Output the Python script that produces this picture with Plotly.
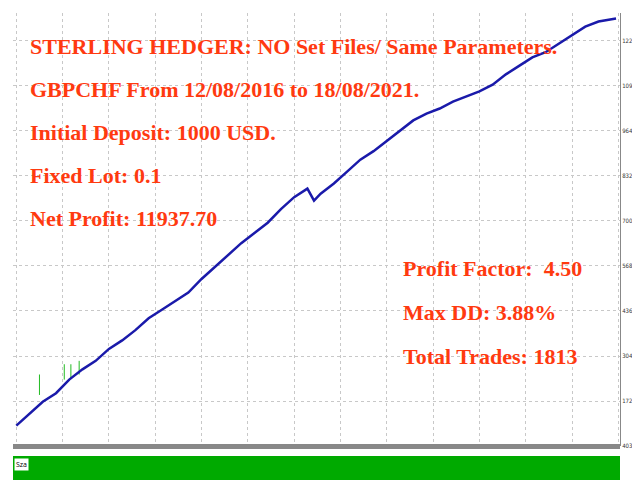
import plotly.graph_objects as go

# balance curve (trade index vs balance)
trade_idx = [0, 40, 80, 120, 160, 200, 240, 280, 320, 360, 400, 440, 480, 520, 560, 600,
             640, 680, 720, 760, 800, 840, 880, 900, 920, 960, 1000, 1040, 1080, 1120, 1160,
             1200, 1240, 1280, 1320, 1360, 1400, 1440, 1480, 1520, 1560, 1600, 1640, 1680,
             1720, 1760, 1813]
balance = [1000, 1350, 1700, 1950, 2350, 2650, 2900, 3250, 3500, 3800, 4150, 4400, 4650,
           4900, 5300, 5650, 6000, 6350, 6650, 6950, 7350, 7700, 7950, 7600, 7800, 8100,
           8450, 8800, 9050, 9350, 9650, 9950, 10150, 10300, 10500, 10650, 10800, 11000,
           11300, 11550, 11800, 11950, 12200, 12450, 12700, 12850, 12940]

# green equity spikes near the start
spike_idx = [70, 145, 165, 190]
spike_lo = [1900, 2350, 2400, 2500]
spike_hi = [2500, 2800, 2800, 2900]

y_ticks = [403, 1722, 3042, 4362, 5682, 7001, 8321, 9641, 10960, 12280]

texts_left = ["STERLING HEDGER: NO Set Files/ Same Parameters.",
              "GBPCHF From 12/08/2016 to 18/08/2021.",
              "Initial Deposit: 1000 USD.",
              "Fixed Lot: 0.1",
              "Net Profit: 11937.70"]
texts_right = ["Profit Factor:  4.50", "Max DD: 3.88%", "Total Trades: 1813"]

fig = go.Figure()
for i, lo, hi in zip(spike_idx, spike_lo, spike_hi):
    fig.add_trace(go.Scatter(x=[i, i], y=[lo, hi], mode="lines",
                             line=dict(color="#22bb22", width=1), showlegend=False))
fig.add_trace(go.Scatter(x=trade_idx, y=balance, mode="lines",
                         line=dict(color="#1a1aaa", width=2.5), showlegend=False))

font = dict(family="Liberation Serif", size=22, color="#ff3a10")
for k, t in enumerate(texts_left):
    fig.add_annotation(x=0.025, y=1 - (38 + 43 * k - 5) / 475, xref="paper", yref="paper",
                       text="<b>%s</b>" % t, showarrow=False, xanchor="left",
                       yanchor="middle", font=font)
for k, t in enumerate(texts_right):
    fig.add_annotation(x=0.64, y=1 - (260 + 44 * k - 5) / 475, xref="paper", yref="paper",
                       text="<b>%s</b>" % t, showarrow=False, xanchor="left",
                       yanchor="middle", font=font)

# bottom panel: separator and green equity block
fig.add_shape(type="rect", xref="paper", yref="paper", x0=0, x1=1,
              y0=(480 - 441) / 475, y1=(480 - 436) / 475,
              fillcolor="#888888", line_width=0)
fig.add_shape(type="rect", xref="paper", yref="paper", x0=0, x1=1,
              y0=0, y1=(480 - 448) / 475, fillcolor="#00aa00", line_width=0)
fig.add_annotation(x=0.002, y=(480 - 450) / 475, xref="paper", yref="paper", text="Sza",
                   showarrow=False, xanchor="left", yanchor="top",
                   font=dict(size=7, color="#000"), bgcolor="#ffffff")

grid = dict(showgrid=True, gridcolor="#c8c8c8", griddash="dot", gridwidth=1)
fig.update_layout(
    width=640, height=480, plot_bgcolor="white", paper_bgcolor="white",
    margin=dict(l=5, r=28, t=5, b=0),
    xaxis=dict(range=[-10, 1825], dtick=140, showticklabels=False, zeroline=False,
               showline=False, **grid),
    yaxis=dict(domain=[(480 - 438) / 475, 1], range=[403, 13100], side="right",
               tickvals=y_ticks, ticktext=[str(v) for v in y_ticks], automargin=False,
               ticklen=2, tickfont=dict(family="DejaVu Sans Condensed, Liberation Sans",
                                        size=6, color="#333"),
               zeroline=False, showline=True, linecolor="#888", mirror=False, **grid),
)
fig.write_html("out.html")
